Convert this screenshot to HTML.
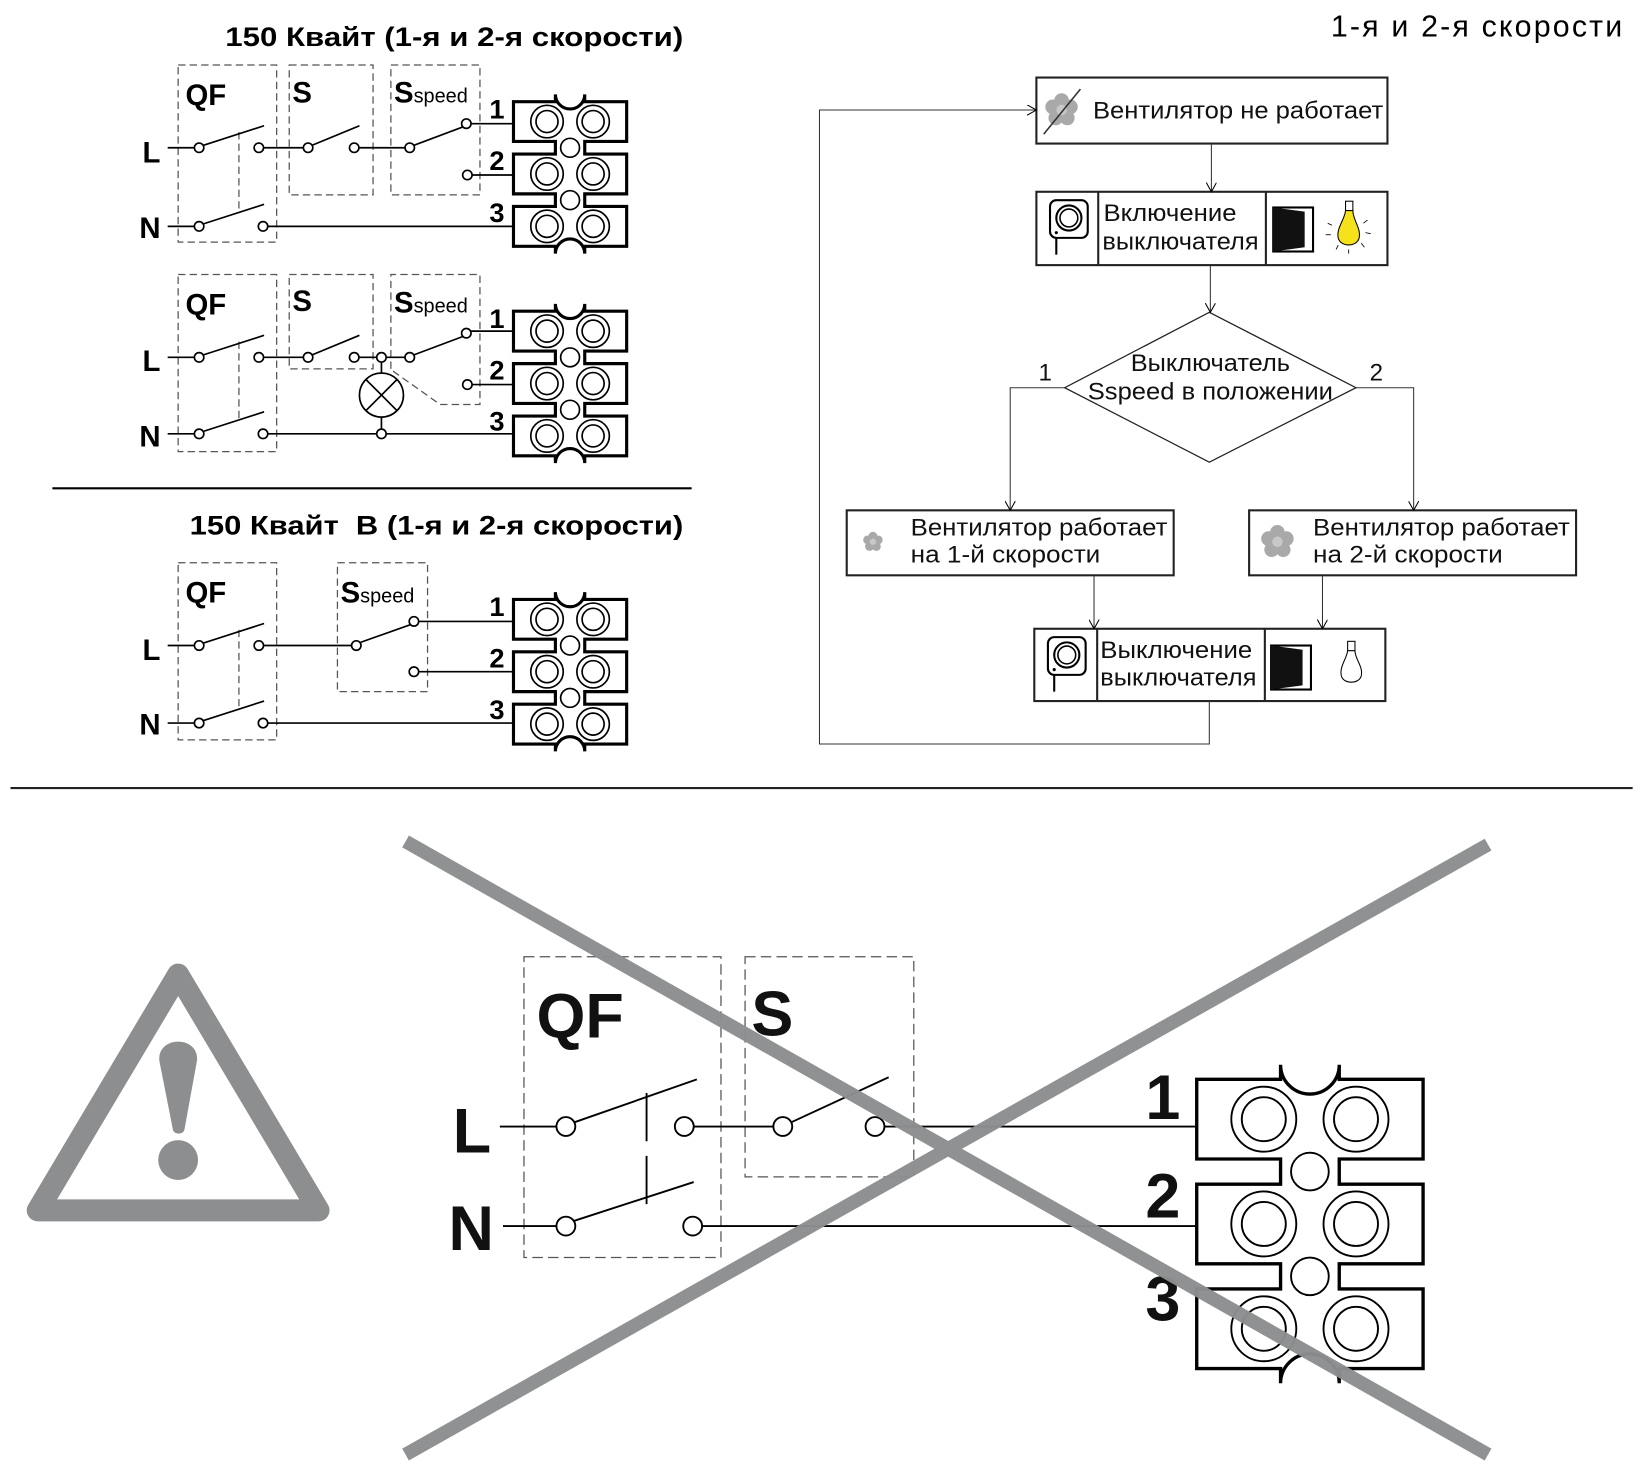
<!DOCTYPE html>
<html><head><meta charset="utf-8"><style>
html,body{margin:0;padding:0;background:#fff;}
svg{display:block;}
text{font-family:"Liberation Sans","DejaVu Sans",sans-serif;}
</style></head><body>
<svg width="1640" height="1476" viewBox="0 0 1565 1408.5" preserveAspectRatio="none" xmlns="http://www.w3.org/2000/svg">
<defs>
<g id="termshape">
<g fill="none" stroke="#000" stroke-width="1.6">
<circle cx="32" cy="19" r="15.5"/><circle cx="32" cy="19" r="10.5"/>
<circle cx="76" cy="19" r="15.5"/><circle cx="76" cy="19" r="10.5"/>
<circle cx="32" cy="69" r="15.5"/><circle cx="32" cy="69" r="10.5"/>
<circle cx="76" cy="69" r="15.5"/><circle cx="76" cy="69" r="10.5"/>
<circle cx="32" cy="119" r="15.5"/><circle cx="32" cy="119" r="10.5"/>
<circle cx="76" cy="119" r="15.5"/><circle cx="76" cy="119" r="10.5"/>
<circle cx="54" cy="44" r="9"/><circle cx="54" cy="94" r="9"/>
</g>
</g>
<path id="tpath" d="M0,0 H40 V-7 A14,14 0 0 0 68,-7 V0 H108 V38 H68 V50 H108 V88 H68 V100 H108 V138 H68 V145 A14,14 0 0 0 40,145 V138 H0 V100 H40 V88 H0 V50 H40 V38 H0 Z"/>
<g id="term">
<use href="#tpath" fill="#fff" stroke="#000" stroke-width="3"/>
<use href="#termshape"/>
</g>
<g id="termL">
<use href="#tpath" fill="#fff" stroke="#000" stroke-width="1.6"/>
<g fill="none" stroke="#000" stroke-width="0.9">
<circle cx="32" cy="19" r="15.5"/><circle cx="32" cy="19" r="10.5"/>
<circle cx="76" cy="19" r="15.5"/><circle cx="76" cy="19" r="10.5"/>
<circle cx="32" cy="69" r="15.5"/><circle cx="32" cy="69" r="10.5"/>
<circle cx="76" cy="69" r="15.5"/><circle cx="76" cy="69" r="10.5"/>
<circle cx="32" cy="119" r="15.5"/><circle cx="32" cy="119" r="10.5"/>
<circle cx="76" cy="119" r="15.5"/><circle cx="76" cy="119" r="10.5"/>
<circle cx="54" cy="44" r="9"/><circle cx="54" cy="94" r="9"/>
</g>
</g>
<g id="fan" fill="#a9a9a9">
<circle cx="0" cy="-9" r="7"/><circle cx="8.5" cy="-3" r="7"/><circle cx="5.5" cy="7.5" r="7"/><circle cx="-5.5" cy="7.5" r="7"/><circle cx="-8.5" cy="-3" r="7"/><circle cx="0" cy="0" r="5" fill="#c8c8c8"/>
</g>
<g id="thermo">
<rect x="-20" y="-22" width="36" height="36" rx="6" fill="#fff" stroke="#000" stroke-width="2"/>
<circle cx="-2" cy="-5" r="12" fill="none" stroke="#000" stroke-width="2"/>
<circle cx="-2" cy="-5" r="8.5" fill="none" stroke="#000" stroke-width="1.5"/>
<circle cx="-14" cy="9" r="1.5"/>
<line x1="-14" y1="14" x2="-14" y2="30" stroke="#000" stroke-width="2"/>
</g>
<g id="sw">
<rect x="-20" y="-20" width="38" height="42" fill="#fff" stroke="#000" stroke-width="2"/>
<path d="M-20,-20 L10,-16 L10,18 L-20,22 Z" fill="#111"/>
</g>
<marker id="ar" markerWidth="10" markerHeight="10" refX="9" refY="5" orient="auto" markerUnits="userSpaceOnUse"><path d="M0,0 L9,5 L0,10" fill="none" stroke="#000" stroke-width="1"/></marker>
</defs>

<!-- Titles -->
<text x="215" y="44" font-size="26" font-weight="bold" textLength="437" lengthAdjust="spacingAndGlyphs">150 Квайт (1-я и 2-я скорости)</text>
<text x="1270" y="35" font-size="29" textLength="278">1-я и 2-я скорости</text>

<!-- ========== Circuit 1 ========== -->
<g fill="none" stroke="#555" stroke-width="1.2" stroke-dasharray="7,4">
<rect x="170" y="62" width="94" height="169"/>
<rect x="276" y="62" width="80" height="124"/>
<rect x="373" y="62" width="85" height="124"/>
<line x1="228" y1="126" x2="228" y2="200"/>
</g>
<g stroke="#000" stroke-width="1.6" fill="#fff">
<line x1="160" y1="141" x2="186" y2="141"/>
<line x1="193" y1="139" x2="252" y2="120"/>
<line x1="251" y1="141" x2="290" y2="141"/>
<line x1="297" y1="139" x2="343" y2="120"/>
<line x1="342" y1="141" x2="387" y2="141"/>
<line x1="394" y1="139" x2="442" y2="121"/>
<line x1="449" y1="118" x2="490" y2="118"/>
<line x1="450" y1="167" x2="490" y2="167"/>
<line x1="160" y1="216" x2="186" y2="216"/>
<line x1="193" y1="214" x2="252" y2="195"/>
<line x1="255" y1="216" x2="490" y2="216"/>
<circle cx="190" cy="141" r="4.5"/><circle cx="247" cy="141" r="4.5"/><circle cx="294" cy="141" r="4.5"/><circle cx="338" cy="141" r="4.5"/><circle cx="391" cy="141" r="4.5"/><circle cx="445" cy="118" r="4.5"/><circle cx="446" cy="167" r="4.5"/><circle cx="190" cy="216" r="4.5"/><circle cx="251" cy="216" r="4.5"/>
</g>
<use href="#term" x="490" y="97"/>
<g font-weight="bold" font-size="28">
<text x="177" y="100">QF</text><text x="279" y="98">S</text><text x="376" y="98">S<tspan font-size="19" font-weight="normal">speed</tspan></text>
<text x="136" y="155">L</text><text x="133" y="227">N</text>
<text x="467" y="113" font-size="26">1</text><text x="467" y="162" font-size="26">2</text><text x="467" y="212" font-size="26">3</text>
</g>

<!-- ========== Circuit 2 ========== -->
<g fill="none" stroke="#555" stroke-width="1.2" stroke-dasharray="7,4">
<rect x="170" y="262" width="94" height="169"/>
<rect x="276" y="262" width="80" height="90"/>
<path d="M373,352 V262 H458 V386 H420 L372,352"/>
<line x1="228" y1="326" x2="228" y2="400"/>
</g>
<g stroke="#000" stroke-width="1.6" fill="#fff">
<line x1="160" y1="341" x2="186" y2="341"/>
<line x1="193" y1="339" x2="252" y2="320"/>
<line x1="251" y1="341" x2="290" y2="341"/>
<line x1="297" y1="339" x2="343" y2="320"/>
<line x1="342" y1="341" x2="387" y2="341"/>
<line x1="394" y1="339" x2="442" y2="321"/>
<line x1="449" y1="316" x2="490" y2="316"/>
<line x1="450" y1="367" x2="490" y2="367"/>
<line x1="160" y1="414" x2="186" y2="414"/>
<line x1="193" y1="412" x2="252" y2="393"/>
<line x1="255" y1="414" x2="490" y2="414"/>
<line x1="364" y1="345" x2="364" y2="410"/>
<circle cx="364" cy="377" r="21"/>
<line x1="349" y1="362" x2="379" y2="392"/><line x1="379" y1="362" x2="349" y2="392"/>
<circle cx="190" cy="341" r="4.5"/><circle cx="247" cy="341" r="4.5"/><circle cx="294" cy="341" r="4.5"/><circle cx="338" cy="341" r="4.5"/><circle cx="364" cy="341" r="4.5"/><circle cx="391" cy="341" r="4.5"/><circle cx="445" cy="318" r="4.5"/><circle cx="446" cy="367" r="4.5"/><circle cx="190" cy="414" r="4.5"/><circle cx="251" cy="414" r="4.5"/><circle cx="364" cy="414" r="4.5"/>
</g>
<use href="#term" x="490" y="297"/>
<g font-weight="bold" font-size="28">
<text x="177" y="300">QF</text><text x="279" y="297">S</text><text x="376" y="298">S<tspan font-size="19" font-weight="normal">speed</tspan></text>
<text x="136" y="354">L</text><text x="133" y="426">N</text>
<text x="467" y="313" font-size="26">1</text><text x="467" y="362" font-size="26">2</text><text x="467" y="411" font-size="26">3</text>
</g>

<line x1="50" y1="466" x2="660" y2="466" stroke="#000" stroke-width="2"/>
<text x="181" y="510" font-size="26" font-weight="bold" xml:space="preserve" textLength="471" lengthAdjust="spacingAndGlyphs">150 Квайт  В (1-я и 2-я скорости)</text>

<!-- ========== Circuit 3 ========== -->
<g fill="none" stroke="#555" stroke-width="1.2" stroke-dasharray="7,4">
<rect x="170" y="537" width="94" height="169"/>
<rect x="322" y="537" width="86" height="123"/>
<line x1="228" y1="601" x2="228" y2="675"/>
</g>
<g stroke="#000" stroke-width="1.6" fill="#fff">
<line x1="160" y1="616" x2="186" y2="616"/>
<line x1="193" y1="614" x2="252" y2="595"/>
<line x1="251" y1="616" x2="336" y2="616"/>
<line x1="344" y1="613" x2="392" y2="596"/>
<line x1="399" y1="593" x2="490" y2="593"/>
<line x1="399" y1="641" x2="490" y2="641"/>
<line x1="160" y1="690" x2="186" y2="690"/>
<line x1="193" y1="688" x2="252" y2="669"/>
<line x1="255" y1="690" x2="490" y2="690"/>
<circle cx="190" cy="616" r="4.5"/><circle cx="247" cy="616" r="4.5"/><circle cx="340" cy="616" r="4.5"/><circle cx="395" cy="593" r="4.5"/><circle cx="395" cy="641" r="4.5"/><circle cx="190" cy="690" r="4.5"/><circle cx="251" cy="690" r="4.5"/>
</g>
<use href="#term" x="490" y="572"/>
<g font-weight="bold" font-size="28">
<text x="177" y="575">QF</text><text x="325" y="575">S<tspan font-size="19" font-weight="normal">speed</tspan></text>
<text x="136" y="630">L</text><text x="133" y="701">N</text>
<text x="467" y="588" font-size="26">1</text><text x="467" y="637" font-size="26">2</text><text x="467" y="686" font-size="26">3</text>
</g>

<!-- ========== Flowchart ========== -->
<g fill="#fff" stroke="#222" stroke-width="2">
<rect x="989" y="74" width="335" height="63"/>
<rect x="989" y="183" width="335" height="70"/>
<line x1="1048" y1="183" x2="1048" y2="253"/><line x1="1208" y1="183" x2="1208" y2="253"/>
<polygon points="1154,298 1294,370 1154,441 1016,370" stroke-width="1.2"/>
<rect x="808" y="487" width="312" height="62"/>
<rect x="1192" y="487" width="312" height="62"/>
<rect x="987" y="600" width="335" height="69"/>
<line x1="1047" y1="600" x2="1047" y2="669"/><line x1="1207" y1="600" x2="1207" y2="669"/>
</g>
<g fill="none" stroke="#333" stroke-width="1" marker-end="url(#ar)">
<line x1="1156" y1="137" x2="1156" y2="183"/>
<line x1="1155" y1="253" x2="1155" y2="298"/>
<polyline points="1016,370 964,370 964,487"/>
<polyline points="1294,370 1349,370 1349,487"/>
<line x1="1044" y1="549" x2="1044" y2="600"/>
<line x1="1262" y1="549" x2="1262" y2="600"/>
<polyline points="1154,669 1154,710 782,710 782,105 989,105"/>
</g>
<g font-size="23" fill="#111" lengthAdjust="spacingAndGlyphs">
<text x="1043" y="113" textLength="277" lengthAdjust="spacingAndGlyphs">Вентилятор не работает</text>
<text x="1053" y="211" textLength="127" lengthAdjust="spacingAndGlyphs">Включение</text>
<text x="1052" y="238" textLength="149" lengthAdjust="spacingAndGlyphs">выключателя</text>
<text x="1079" y="354" textLength="152" lengthAdjust="spacingAndGlyphs">Выключатель</text>
<text x="1038" y="381" textLength="234" lengthAdjust="spacingAndGlyphs">Sspeed в положении</text>
<text x="991" y="363">1</text><text x="1307" y="363">2</text>
<text x="869" y="511" textLength="245" lengthAdjust="spacingAndGlyphs">Вентилятор работает</text>
<text x="869" y="537" textLength="181" lengthAdjust="spacingAndGlyphs">на 1-й скорости</text>
<text x="1253" y="511" textLength="245" lengthAdjust="spacingAndGlyphs">Вентилятор работает</text>
<text x="1253" y="537" textLength="181" lengthAdjust="spacingAndGlyphs">на 2-й скорости</text>
<text x="1050" y="628" textLength="145" lengthAdjust="spacingAndGlyphs">Выключение</text>
<text x="1050" y="654" textLength="149" lengthAdjust="spacingAndGlyphs">выключателя</text>
</g>
<use href="#fan" transform="translate(1013,105)"/>
<line x1="996" y1="128" x2="1031" y2="85" stroke="#333" stroke-width="1.5"/>
<use href="#fan" transform="translate(833,517) scale(0.6)"/>
<use href="#fan" transform="translate(1219,517)"/>
<use href="#thermo" transform="translate(1022,213)"/>
<use href="#thermo" transform="translate(1020,630)"/>
<use href="#sw" transform="translate(1235,218)"/>
<use href="#sw" transform="translate(1233,636)"/>
<g transform="translate(1287,218)">
<rect x="-3" y="-26" width="7" height="9" fill="#fff" stroke="#000" stroke-width="1"/>
<path d="M-3,-17 C-4,-8 -12,0 -10,9 C-8,18 8,18 10,9 C12,0 4,-8 4,-17 Z" fill="#f6e21a" stroke="#000" stroke-width="1"/>
<g stroke="#000" stroke-width="0.8"><line x1="-20" y1="-5" x2="-16" y2="-3"/><line x1="-22" y1="6" x2="-17" y2="6"/><line x1="18" y1="-8" x2="14" y2="-5"/><line x1="21" y1="5" x2="16" y2="4"/><line x1="15" y1="18" x2="12" y2="14"/><line x1="0" y1="24" x2="0" y2="20"/><line x1="-12" y1="20" x2="-10" y2="16"/></g>
</g>
<g transform="translate(1289,636)">
<rect x="-3" y="-24" width="7" height="9" fill="#fff" stroke="#000" stroke-width="1"/>
<path d="M-3,-15 C-4,-7 -11,0 -9,9 C-7,17 8,17 10,9 C12,0 4,-7 4,-15 Z" fill="#fff" stroke="#000" stroke-width="1"/>
</g>

<!-- main divider -->
<line x1="10" y1="752" x2="1558" y2="752" stroke="#222" stroke-width="2"/>

<!-- ========== Bottom ========== -->
<path d="M170,930 L36,1155 L304,1155 Z" fill="none" stroke="#8c8e8f" stroke-width="21" stroke-linejoin="round"/>
<path d="M152,1012 C150,988 190,988 188,1012 L176,1078 C175,1083 166,1083 165,1078 Z" fill="#8c8e8f"/>
<circle cx="170" cy="1107" r="19" fill="#8c8e8f"/>

<g fill="none" stroke="#555" stroke-width="1.2" stroke-dasharray="10,5">
<rect x="500" y="913" width="188" height="287"/>
<rect x="711" y="913" width="161" height="210"/>
</g>
<line x1="617" y1="1043" x2="617" y2="1150" stroke="#000" stroke-width="1.8" stroke-dasharray="46,14"/>
<g stroke="#000" stroke-width="1.8" fill="#fff">
<line x1="477" y1="1075" x2="531" y2="1075"/>
<line x1="548" y1="1071" x2="665" y2="1030"/>
<line x1="662" y1="1075" x2="738" y2="1075"/>
<line x1="755" y1="1071" x2="848" y2="1028"/>
<line x1="844" y1="1075" x2="1142" y2="1075"/>
<line x1="480" y1="1170" x2="531" y2="1170"/>
<line x1="548" y1="1165" x2="662" y2="1128"/>
<line x1="670" y1="1170" x2="1142" y2="1170"/>
<circle cx="540" cy="1075" r="9"/><circle cx="653" cy="1075" r="9"/><circle cx="747" cy="1075" r="9"/><circle cx="835" cy="1075" r="9"/>
<circle cx="540" cy="1170" r="9"/><circle cx="661" cy="1170" r="9"/>
</g>
<g transform="translate(1142,1030) scale(2)">
<use href="#termL"/>
</g>
<g font-weight="bold" font-size="60" fill="#111">
<text x="512" y="990">QF</text><text x="717" y="988">S</text>
<text x="432" y="1100">L</text><text x="428" y="1193">N</text>
<text x="1093" y="1068">1</text><text x="1093" y="1162">2</text><text x="1093" y="1260">3</text>
</g>
<g stroke="#8c8e8f" stroke-width="13" stroke-linecap="butt" opacity="0.97">
<line x1="387" y1="803" x2="1420" y2="1388"/>
<line x1="1420" y1="806" x2="387" y2="1388"/>
</g>
</svg>
</body></html>
